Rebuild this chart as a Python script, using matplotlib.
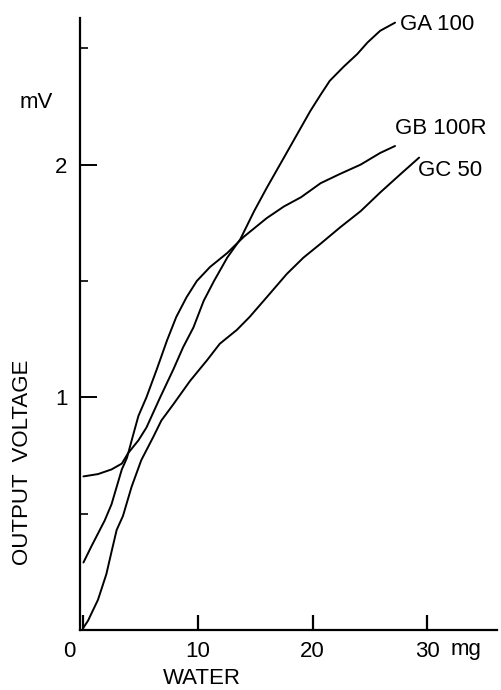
import matplotlib.pyplot as plt
from matplotlib.ticker import MultipleLocator
import matplotlib.transforms as mtransforms

plt.rcParams['font.family'] = ['Liberation Sans', 'DejaVu Sans']

# water (mg) vs output voltage (mV)
ga_x = [0, 1.27, 2.45, 3.35, 3.9, 4.8, 5.5, 6.7, 7.85, 8.7, 9.6, 10.5, 11.4, 12.55,
        13.7, 14.1, 14.9, 16.0, 17.5, 18.65, 19.8, 20.7, 21.5, 22.7, 23.9, 24.8,
        25.9, 27.2]
ga_y = [0.66, 0.67, 0.69, 0.715, 0.76, 0.815, 0.87, 1.00, 1.12, 1.215, 1.30, 1.415,
        1.50, 1.60, 1.68, 1.72, 1.80, 1.90, 2.03, 2.13, 2.23, 2.30, 2.36, 2.42,
        2.475, 2.525, 2.575, 2.61]

gb_x = [0, 0.7, 1.85, 2.45, 2.9, 3.35, 3.8, 4.35, 4.8, 5.5, 6.4, 7.3, 8.1, 9.0, 9.9,
        11.05, 12.55, 14.0, 16.0, 17.5, 19.0, 20.7, 22.4, 24.2, 25.9, 27.2]
gb_y = [0.29, 0.36, 0.47, 0.54, 0.615, 0.69, 0.74, 0.84, 0.92, 1.00, 1.12, 1.245,
        1.345, 1.43, 1.50, 1.56, 1.62, 1.69, 1.77, 1.82, 1.86, 1.92, 1.96, 2.00,
        2.05, 2.08]

gc_x = [0, 0.4, 1.27, 2.0, 2.47, 2.9, 3.45, 4.2, 5.05, 6.1, 6.8, 7.85, 9.3, 10.8,
        11.9, 13.4, 14.5, 16.0, 17.75, 19.2, 20.7, 22.4, 24.2, 25.9, 27.7, 29.3]
gc_y = [0.01, 0.04, 0.13, 0.24, 0.34, 0.43, 0.49, 0.615, 0.73, 0.83, 0.90, 0.97,
        1.07, 1.16, 1.23, 1.29, 1.345, 1.43, 1.53, 1.60, 1.66, 1.73, 1.80, 1.88,
        1.96, 2.03]

series_names = ['GA 100', 'GB 100R', 'GC 50']
label_pos = [(27.6, 2.60), (27.2, 2.155), (29.2, 1.975)]

x_ticks = [0, 10, 20, 30]
x_ticklabels = ['0', '10', '20', '30']
y_ticks = [1, 2]
y_ticklabels = ['1', '2']

fig = plt.figure(figsize=(5.02, 6.90), dpi=100)
ax = fig.add_axes([80/502, 60/690, 417/502, 612/690])

for xs, ys in [(ga_x, ga_y), (gb_x, gb_y), (gc_x, gc_y)]:
    ax.plot(xs, ys, color='black', lw=1.4, solid_joinstyle='round',
            solid_capstyle='round')

for name, (lx, ly) in zip(series_names, label_pos):
    ax.text(lx, ly, name, fontsize=16, ha='left', va='center')

ax.set_xlim(-0.3, 36.1)
ax.set_ylim(0, 2.63)

ax.spines['top'].set_visible(False)
ax.spines['right'].set_visible(False)
ax.spines['left'].set_linewidth(1.6)
ax.spines['bottom'].set_linewidth(1.6)

ax.set_xticks(x_ticks)
ax.set_xticklabels(x_ticklabels)
ax.set_yticks(y_ticks)
ax.set_yticklabels(y_ticklabels)
ax.yaxis.set_minor_locator(MultipleLocator(0.5))
ax.tick_params(axis='x', direction='in', length=11, width=1.6, pad=8, labelsize=16)
ax.tick_params(axis='y', which='major', direction='in', length=12, width=1.4,
               pad=9, labelsize=16)
ax.tick_params(axis='y', which='minor', direction='in', length=6, width=1.2)

# shift the "0" label left of the origin, like the reference
off = mtransforms.ScaledTranslation(-14/100, 0, fig.dpi_scale_trans)
lbl0 = ax.get_xticklabels()[0]
lbl0.set_transform(lbl0.get_transform() + off)

fig.text(466/502, 1 - 649/690, 'mg', fontsize=16, ha='center', va='center')
fig.text(36/502, 1 - 103/690, 'mV', fontsize=16, ha='center', va='center')
fig.text(202/502, 1 - 679/690, 'WATER', fontsize=16, ha='center', va='center')
fig.text(23/502, 1 - 462/690, 'OUTPUT  VOLTAGE', fontsize=16, ha='center',
         va='center', rotation=90)

fig.savefig('out.png', dpi=100)
